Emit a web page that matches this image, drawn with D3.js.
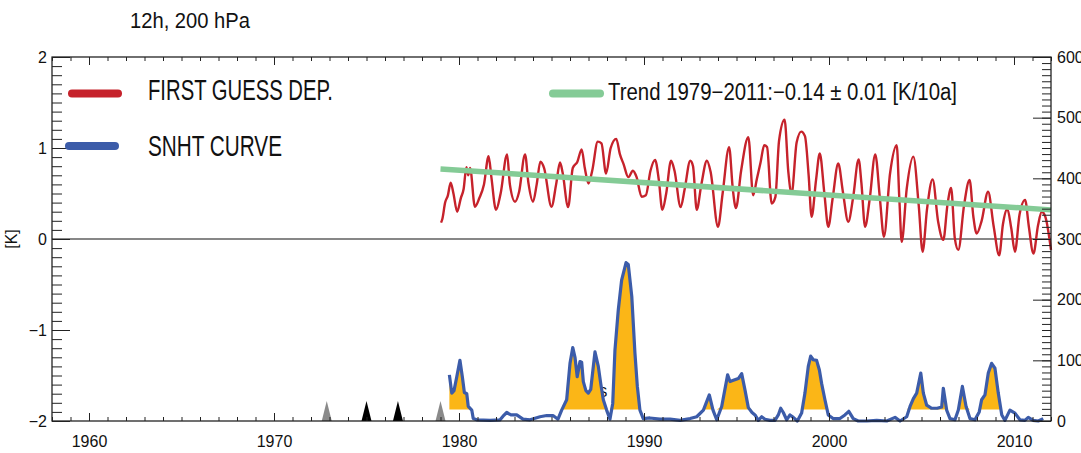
<!DOCTYPE html>
<html>
  <head>
    <meta charset="utf-8" />
    <title>first guess departures, 12h 200 hPa</title>
    <script src="https://cdn.jsdelivr.net/npm/d3@7"></script>
    <style type="text/css">
      body { margin: 0; background: #fff; }
      svg text { font-family: "Liberation Sans", Arial, sans-serif; fill: #111; }
      .axis path { display: none; }
      .axis line { stroke: #222; }
      .axis text { font-size: 16px; }
    </style>
  </head>
  <body>
    <svg id="chart" width="1081" height="453"></svg>
    <script type="text/javascript">
      // first guess departure (left axis, K) - read off peaks/troughs
      var fgYears = [1979.03, 1979.1, 1979.25, 1979.4, 1979.55, 1979.7, 1979.9, 1980.1, 1980.25, 1980.4, 1980.5, 1980.6, 1980.86,
        1981.1, 1981.35, 1981.6, 1981.75, 1982.0, 1982.25, 1982.6, 1982.75, 1983.03, 1983.25, 1983.57, 1983.75, 1984.0,
        1984.2, 1984.4, 1984.6, 1985.0, 1985.25, 1985.46, 1985.6, 1985.9, 1986.15, 1986.4, 1986.63, 1986.8, 1987.0,
        1987.2, 1987.5, 1987.7, 1987.95, 1988.2, 1988.5, 1988.7, 1988.9, 1989.15, 1989.4, 1989.6, 1989.87, 1990.1,
        1990.35, 1990.6, 1990.8, 1990.99, 1991.2, 1991.46, 1991.65, 1991.98, 1992.2, 1992.5, 1992.65, 1992.85, 1993.1,
        1993.4, 1993.6, 1994.0, 1994.25, 1994.6, 1994.8, 1994.97, 1995.25, 1995.64, 1995.9, 1996.1, 1996.3, 1996.5,
        1996.65, 1996.9, 1997.1, 1997.3, 1997.6, 1997.8, 1997.98, 1998.25, 1998.5, 1998.7, 1998.9, 1999.06, 1999.3,
        1999.5, 1999.75, 1999.96, 2000.2, 2000.5, 2000.75, 2001.04, 2001.3, 2001.6, 2001.75, 2001.95, 2002.2, 2002.5,
        2002.75, 2002.97, 2003.3, 2003.66, 2003.8, 2003.93, 2004.2, 2004.56, 2004.85, 2005.06, 2005.3, 2005.6, 2005.9,
        2006.18, 2006.4, 2006.6, 2006.8, 2006.99, 2007.3, 2007.6, 2007.8, 2007.98, 2008.25, 2008.6, 2008.9, 2009.2,
        2009.4, 2009.64, 2009.85, 2010.05, 2010.3, 2010.6, 2010.8, 2011.05, 2011.3, 2011.5, 2011.7, 2012.0];
      var fgValues = [0.18, 0.22, 0.40, 0.48, 0.62, 0.50, 0.30, 0.45, 0.55, 0.79, 0.70, 0.78, 0.355,
        0.45, 0.60, 0.91, 0.68, 0.32, 0.50, 0.93, 0.60, 0.41, 0.52, 0.93, 0.62, 0.41,
        0.60, 0.85, 0.78, 0.355, 0.60, 0.84, 0.73, 0.35, 0.78, 0.85, 0.985, 0.78, 0.61,
        0.75, 1.07, 1.05, 0.72, 1.00, 1.10, 0.93, 0.82, 0.68, 0.75, 0.68, 0.465, 0.48,
        0.75, 0.87, 0.65, 0.32, 0.50, 0.86, 0.75, 0.35, 0.55, 0.86, 0.80, 0.32, 0.60,
        0.86, 0.74, 0.135, 0.50, 1.01, 0.55, 0.34, 0.75, 1.12, 0.48, 0.66, 0.84, 1.03,
        1.01, 0.39, 0.46, 1.08, 1.31, 0.74, 0.50, 1.06, 1.18, 1.13, 0.70, 0.245, 0.65,
        0.94, 0.50, 0.135, 0.45, 0.83, 0.52, 0.19, 0.45, 0.875, 0.62, 0.135, 0.44, 0.93,
        0.45, 0.025, 0.72, 1.03, 0.45, -0.03, 0.55, 0.905, 0.37, -0.14, 0.33, 0.655, 0.19,
        -0.01, 0.37, 0.56, 0.01, -0.12, 0.37, 0.65, 0.25, 0.06, 0.20, 0.52, 0.14, -0.18,
        0.16, 0.33, 0.12, -0.14, 0.27, 0.43, 0.14, -0.16, 0.15, 0.30, 0.24, -0.12];

      // trend line 1979-2011 (left axis)
      var trendYears = [1979.0, 2012.0];
      var trendValues = [0.77, 0.32];

      // SNHT test statistic (right axis)
      var snhtYears = [1979.48, 1979.61, 1979.73, 1979.88, 1980.05, 1980.18, 1980.29, 1980.42, 1980.5, 1980.69, 1980.77,
        1980.96, 1981.68, 1982.22, 1982.38, 1982.58, 1982.81, 1983.12, 1983.46, 1983.84, 1984.38, 1984.74, 1985.08,
        1985.35, 1985.55, 1985.82, 1986.0, 1986.15, 1986.27, 1986.39, 1986.54, 1986.63, 1986.72, 1986.86, 1986.99,
        1987.12, 1987.35, 1987.53, 1987.66, 1987.8, 1987.98, 1988.16, 1988.31, 1988.43, 1988.61, 1988.79, 1989.03,
        1989.15, 1989.34, 1989.51, 1989.64, 1989.78, 1989.96, 1990.32, 1990.86, 1991.41, 1991.95, 1992.49, 1992.85,
        1993.21, 1993.53, 1993.73, 1993.93, 1994.2, 1994.52, 1994.65, 1994.83, 1995.1, 1995.28, 1995.46, 1995.64,
        1995.84, 1996.0, 1996.18, 1996.36, 1996.54, 1996.81, 1997.08, 1997.26, 1997.39, 1997.53, 1997.71, 1997.89,
        1998.07, 1998.29, 1998.52, 1998.7, 1998.88, 1999.01, 1999.15, 1999.33, 1999.48, 1999.6, 1999.78, 1999.96,
        2000.22, 2000.59, 2000.86, 2001.07, 2001.31, 2001.58, 2002.04, 2002.58, 2003.12, 2003.57, 2003.84, 2004.2,
        2004.38, 2004.56, 2004.74, 2004.96, 2005.1, 2005.28, 2005.55, 2005.85, 2006.09, 2006.18, 2006.36, 2006.54,
        2006.81, 2006.99, 2007.21, 2007.41, 2007.62, 2007.89, 2008.12, 2008.25, 2008.43, 2008.61, 2008.79, 2008.97,
        2009.15, 2009.34, 2009.51, 2009.78, 2010.05, 2010.32, 2010.59, 2010.77, 2011.03, 2011.31, 2011.58];
      var snhtValues = [76, 46, 50, 73, 100, 73, 47, 45, 24, 18, 4,
        2, 1, 2, 8, 14, 10, 10, 3, 2, 7, 9, 9,
        3, 18, 35, 95, 121, 105, 73, 98, 97, 65, 50, 46,
        52, 114, 90, 62, 35, 18, 3, 29, 117, 183, 232, 261,
        258, 205, 112, 57, 18, 4, 5, 3, 3, 1, 4, 7,
        18, 43, 18, 2, 24, 76, 65, 67, 70, 78, 51, 22,
        14, 10, 1, 7, 3, 1, 1, 10, 21, 14, 2, 10,
        6, 0, 13, 46, 90, 107, 101, 100, 84, 62, 35, 10,
        4, 4, 10, 16, 4, 0, 0, 1, 0, 6, 0, 7,
        24, 37, 46, 79, 46, 26, 21, 21, 23, 54, 18, 4,
        2, 18, 57, 24, 4, 2, 15, 35, 43, 79, 95, 87,
        46, 10, 1, 18, 13, 2, 1, 6, 1, 0, 4];
      var snhtThreshold = 19;

      // metadata event markers
      var grayMarkerYears = [1972.85, 1979.0];
      var blackMarkerYears = [1975.0, 1976.7];

      var xTicks = [1960, 1970, 1980, 1990, 2000, 2010];
      var leftTicks = [-2, -1, 0, 1, 2];
      var rightTicks = [0, 100, 200, 300, 400, 500, 600];

      var titleText = '12h, 200 hPa';
      var fgLabel = 'FIRST GUESS DEP.';
      var snhtLabel = 'SNHT CURVE';
      var trendLabel = 'Trend 1979\u22122011:\u22120.14 \u00b1 0.01 [K/10a]';

      var cRed = '#c6222b', cBlue = '#3c5ca9', cGreen = '#84cb96', cOrange = '#fbb617';

      var svg = d3.select('#chart');
      var L = 52, R = 1051, T = 57, B = 421;

      var x = d3.scaleLinear().domain([1958, 2012]).range([L, R]);
      var yL = d3.scaleLinear().domain([-2, 2]).range([B, T]);
      var yR = d3.scaleLinear().domain([0, 600]).range([B, T]);

      var fg = fgYears.map((t, i) => ({ t: t, v: fgValues[i] }));
      var snht = snhtYears.map((t, i) => ({ t: t, v: snhtValues[i] }));
      var trend = trendYears.map((t, i) => ({ t: t, v: trendValues[i] }));

      // title
      svg.append('text').attr('x', 130).attr('y', 28)
        .attr('font-size', 22).attr('textLength', 120).attr('lengthAdjust', 'spacingAndGlyphs')
        .text(titleText);

      // zero line
      svg.append('line').attr('x1', L).attr('x2', R)
        .attr('y1', yL(0)).attr('y2', yL(0))
        .attr('stroke', '#111').attr('stroke-width', 1.2);

      // marker triangles on the time axis
      var tri = (t) => 'M' + (x(t) - 5) + ',' + B + 'L' + x(t) + ',' + (B - 20) + 'L' + (x(t) + 5) + ',' + B + 'Z';
      svg.append('g').selectAll('path').data(grayMarkerYears).enter()
        .append('path').attr('d', tri).attr('fill', '#8a8a8a');
      svg.append('g').selectAll('path').data(blackMarkerYears).enter()
        .append('path').attr('d', tri).attr('fill', '#000');

      // stray glyph half hidden behind the fill
      svg.append('text').attr('x', 598).attr('y', 397).attr('font-size', 14).text('S');

      // SNHT fill above threshold
      var area = d3.area()
        .x((d) => x(d.t))
        .y0(yR(snhtThreshold))
        .y1((d) => yR(Math.max(d.v, snhtThreshold)));
      svg.append('path').attr('d', area(snht)).attr('fill', cOrange);

      // SNHT curve
      var snhtLine = d3.line().x((d) => x(d.t)).y((d) => yR(d.v));
      svg.append('path').attr('d', snhtLine(snht))
        .attr('fill', 'none').attr('stroke', cBlue).attr('stroke-width', 3.2)
        .attr('stroke-linejoin', 'round');

      // first guess departures
      var fgLine = d3.line().curve(d3.curveMonotoneX).x((d) => x(d.t)).y((d) => yL(d.v));
      svg.append('path').attr('d', fgLine(fg))
        .attr('fill', 'none').attr('stroke', cRed).attr('stroke-width', 2.4)
        .attr('stroke-linejoin', 'round');

      // trend
      var trendLine = d3.line().x((d) => x(d.t)).y((d) => yL(d.v));
      svg.append('path').attr('d', trendLine(trend))
        .attr('fill', 'none').attr('stroke', cGreen).attr('stroke-width', 5.5);

      // frame
      svg.append('rect').attr('x', L).attr('y', T).attr('width', R - L).attr('height', B - T)
        .attr('fill', 'none').attr('stroke', '#111').attr('stroke-width', 1.2);

      // axes: major + minor ticks, all pointing inward
      var years = d3.range(1958, 2013);
      svg.append('g').attr('class', 'axis').attr('transform', 'translate(0,' + B + ')')
        .call(d3.axisBottom(x).tickValues(years).tickSize(-4).tickFormat(''));
      svg.append('g').attr('class', 'axis').attr('transform', 'translate(0,' + B + ')')
        .call(d3.axisBottom(x).tickValues(xTicks).tickSizeInner(-8).tickSizeOuter(0)
          .tickPadding(15).tickFormat(d3.format('d')));
      svg.append('g').attr('class', 'axis').attr('transform', 'translate(0,' + T + ')')
        .call(d3.axisTop(x).tickValues(years).tickSize(-4).tickFormat(''));
      svg.append('g').attr('class', 'axis').attr('transform', 'translate(0,' + T + ')')
        .call(d3.axisTop(x).tickValues(xTicks).tickSize(-8).tickFormat(''));

      svg.append('g').attr('class', 'axis').attr('transform', 'translate(' + L + ',0)')
        .call(d3.axisLeft(yL).tickValues(d3.range(-20, 21).map((d) => d / 10)).tickSize(-10).tickFormat(''));
      svg.append('g').attr('class', 'axis').attr('transform', 'translate(' + L + ',0)')
        .call(d3.axisLeft(yL).tickValues(leftTicks).tickSizeInner(-18).tickSizeOuter(0)
          .tickPadding(5).tickFormat(d3.format('d')));

      svg.append('g').attr('class', 'axis').attr('transform', 'translate(' + R + ',0)')
        .call(d3.axisRight(yR).tickValues(d3.range(0, 601, 10)).tickSize(-9).tickFormat(''));
      svg.append('g').attr('class', 'axis').attr('transform', 'translate(' + R + ',0)')
        .call(d3.axisRight(yR).tickValues(rightTicks).tickSizeInner(-18).tickSizeOuter(0)
          .tickPadding(6).tickFormat(d3.format('d')));

      // y label
      svg.append('text').attr('transform', 'translate(17,' + yL(0) + ') rotate(-90)')
        .attr('text-anchor', 'middle').attr('font-size', 16).text('[K]');

      // legend
      var legend = svg.append('g');
      legend.append('line').attr('x1', 72).attr('x2', 118).attr('y1', 93.5).attr('y2', 93.5)
        .attr('stroke', cRed).attr('stroke-width', 8).attr('stroke-linecap', 'round');
      legend.append('line').attr('x1', 69).attr('x2', 115).attr('y1', 146).attr('y2', 146)
        .attr('stroke', cBlue).attr('stroke-width', 8).attr('stroke-linecap', 'round');
      legend.append('line').attr('x1', 553).attr('x2', 600).attr('y1', 93.5).attr('y2', 93.5)
        .attr('stroke', cGreen).attr('stroke-width', 8).attr('stroke-linecap', 'round');
      legend.append('text').attr('x', 148).attr('y', 99.5).attr('font-size', 29)
        .attr('textLength', 185).attr('lengthAdjust', 'spacingAndGlyphs').attr('fill', '#222').text(fgLabel);
      legend.append('text').attr('x', 148).attr('y', 155.5).attr('font-size', 29)
        .attr('textLength', 134).attr('lengthAdjust', 'spacingAndGlyphs').attr('fill', '#222').text(snhtLabel);
      legend.append('text').attr('x', 608).attr('y', 99.5).attr('font-size', 23)
        .attr('textLength', 349).attr('lengthAdjust', 'spacingAndGlyphs').text(trendLabel);
    </script>
  </body>
</html>
